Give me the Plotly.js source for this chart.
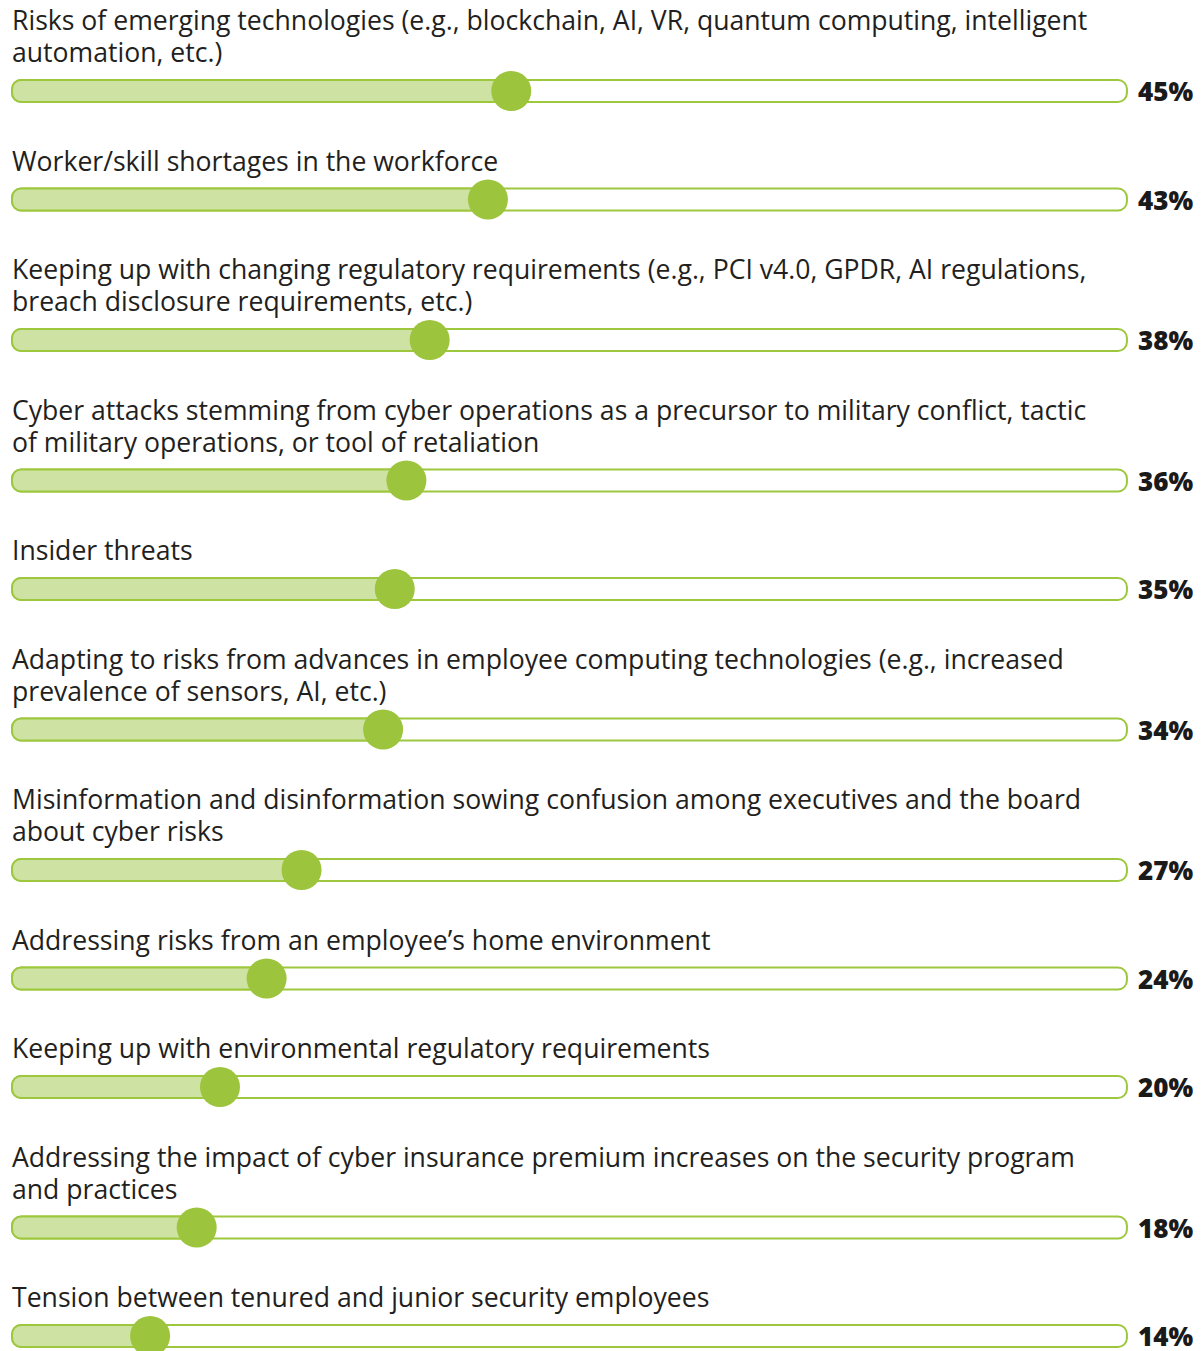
<!DOCTYPE html>
<html>
<head>
<meta charset="utf-8">
<script src="https://cdn.plot.ly/plotly-3.0.1.min.js"></script>
<style>
  html, body { margin: 0; padding: 0; background: #fff; }
  #chart { width: 1203px; height: 1351px; }
</style>
</head>
<body>
<div id="chart"></div>
<script>
// survey items, as they wrap in the original
var labels = [
  "Risks of emerging technologies (e.g., blockchain, AI, VR, quantum computing, intelligent<br>automation, etc.)",
  "Worker/skill shortages in the workforce",
  "Keeping up with changing regulatory requirements (e.g., PCI v4.0, GPDR, AI regulations,<br>breach disclosure requirements, etc.)",
  "Cyber attacks stemming from cyber operations as a precursor to military conflict, tactic<br>of military operations, or tool of retaliation",
  "Insider threats",
  "Adapting to risks from advances in employee computing technologies (e.g., increased<br>prevalence of sensors, AI, etc.)",
  "Misinformation and disinformation sowing confusion among executives and the board<br>about cyber risks",
  "Addressing risks from an employee\u2019s home environment",
  "Keeping up with environmental regulatory requirements",
  "Addressing the impact of cyber insurance premium increases on the security program<br>and practices",
  "Tension between tenured and junior security employees"
];
var values = [45, 43, 38, 36, 35, 34, 27, 24, 20, 18, 14];

// scale of the slider track (percent units)
var trackStart = 2.15, trackEnd = 97.85;

// vertical position of each row, from how many lines its label takes
var lineH = 32, rowGap = 76.5;
var rowY = [];
labels.forEach(function (t, i) {
  var lines = t.split("<br>").length;
  if (i === 0) rowY.push(27 + lineH * lines);
  else rowY.push(rowY[i - 1] + rowGap + lineH * lines);
});

var green = "#9cc43c", lightGreen = "#cde2a3", lineGreen = "#9dc73d";

var track = {
  type: "bar", orientation: "h",
  y: rowY,
  x: values.map(function () { return trackEnd - trackStart; }),
  base: trackStart,
  width: 22,
  marker: { color: "#ffffff", line: { color: lineGreen, width: 2 }, cornerradius: 9 },
  hoverinfo: "skip"
};

var fill = {
  type: "bar", orientation: "h",
  y: rowY,
  x: values.map(function (v) { return v - trackStart; }),
  base: trackStart,
  width: 22,
  marker: { color: lightGreen, line: { color: lineGreen, width: 2 }, cornerradius: 9 },
  hoverinfo: "skip"
};

var knobs = {
  type: "scatter", mode: "markers",
  x: values, y: rowY,
  marker: { size: 40, color: green, line: { width: 0 } },
  hoverinfo: "skip"
};

var annotations = [];
labels.forEach(function (t, i) {
  var lines = t.split("<br>");
  lines.forEach(function (ln, k) {
    annotations.push({
      x: trackStart, y: rowY[i] - 39 - lineH * (lines.length - 1 - k), xref: "x", yref: "y",
      xanchor: "left", yanchor: "middle", align: "left",
      text: ln, showarrow: false, xshift: -2,
      font: { family: "Open Sans", size: 26.6, color: "#231f20" }
    });
  });
  annotations.push({
    x: trackEnd, y: rowY[i], xref: "x", yref: "y",
    xanchor: "left", yanchor: "middle",
    text: values[i] + "%", showarrow: false, xshift: 9,
    font: { family: "Open Sans", size: 26, color: "#1a1a1a", weight: 800 }
  });
});

var layout = {
  width: 1203, height: 1351,
  margin: { l: 0, r: 0, t: 0, b: 0 },
  paper_bgcolor: "#fff", plot_bgcolor: "#fff",
  barmode: "overlay",
  showlegend: false,
  xaxis: { range: [1.116, 104.38], visible: false, fixedrange: true },
  yaxis: { range: [1351, 0], visible: false, fixedrange: true },
  annotations: annotations
};

Plotly.newPlot("chart", [track, fill, knobs], layout, { displayModeBar: false, staticPlot: true });
</script>
</body>
</html>
